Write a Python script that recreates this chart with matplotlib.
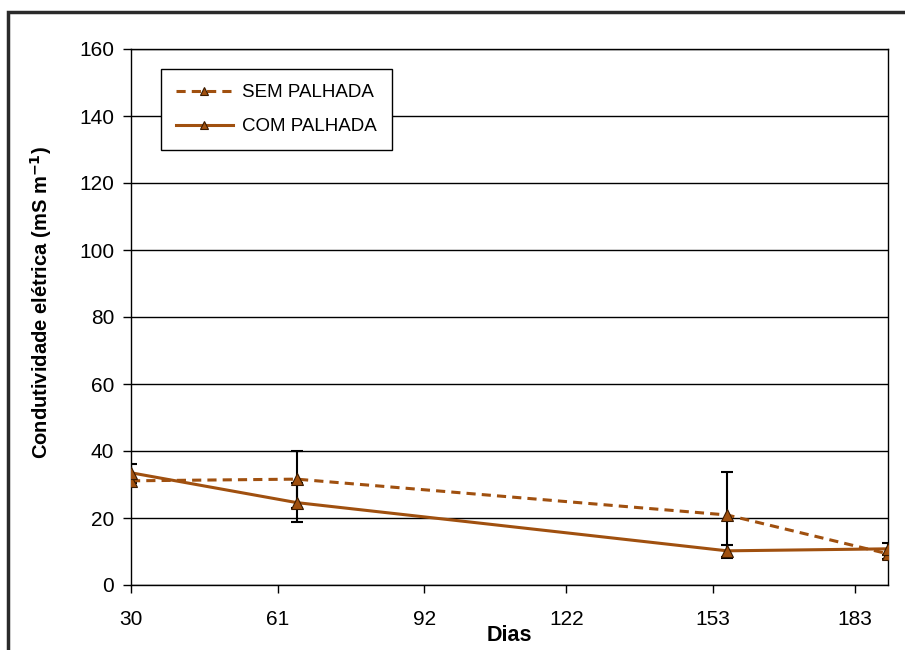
import matplotlib.pyplot as plt
from matplotlib.patches import Rectangle

plt.rcParams['font.family'] = ['Liberation Sans', 'DejaVu Sans']

# dados
dias = [30, 65, 156, 190]
sem_palhada = [31.1, 31.6, 20.9, 9.3]
sem_erro = [0.6, 8.5, 12.8, 1.5]
com_palhada = [33.5, 24.6, 10.2, 10.8]
com_erro = [2.6, 5.7, 1.8, 1.8]

x_ticks = [30, 61, 92, 122, 153, 183]
y_ticks = [0, 20, 40, 60, 80, 100, 120, 140, 160]

cor = '#A0500F'

fig = plt.figure(figsize=(9.05, 6.5), dpi=100)
ax = fig.add_axes([131 / 905, 65 / 650, 757 / 905, 536 / 650])

# moldura externa
fig.patches.append(Rectangle((8 / 905, -0.05), 1.05, 1 - 12 / 650 + 0.05,
                             transform=fig.transFigure, fill=False,
                             edgecolor='#2a2a2a', linewidth=2.5))

ax.errorbar(dias, sem_palhada, yerr=sem_erro, fmt='none', ecolor='black',
            elinewidth=1.5, capsize=4.5, capthick=1.5, zorder=2)
ax.errorbar(dias, com_palhada, yerr=com_erro, fmt='none', ecolor='black',
            elinewidth=1.5, capsize=4.5, capthick=1.5, zorder=2)

ax.plot(dias, sem_palhada, linestyle=(0, (3, 2)), color=cor, linewidth=2.2,
        marker='^', markersize=9, markerfacecolor=cor, markeredgecolor='#3a1a00',
        markeredgewidth=0.8, label='SEM PALHADA', zorder=3)
ax.plot(dias, com_palhada, linestyle='-', color=cor, linewidth=2.2,
        marker='^', markersize=9, markerfacecolor=cor, markeredgecolor='#3a1a00',
        markeredgewidth=0.8, label='COM PALHADA', zorder=3)

ax.set_xlim(30, 190)
ax.set_ylim(0, 160)
ax.set_xticks(x_ticks)
ax.set_yticks(y_ticks)
ax.yaxis.grid(True, color='black', linewidth=1)
ax.set_axisbelow(True)
ax.tick_params(axis='both', direction='out', length=6, width=1,
               labelsize=15, color='black')
ax.tick_params(axis='x', pad=12)
ax.tick_params(axis='y', pad=6)
for s in ax.spines.values():
    s.set_linewidth(1)
    s.set_color('black')

ax.set_xlabel('Dias', fontsize=15.5, fontweight='bold', labelpad=-3)
ax.set_ylabel('Condutividade elétrica (mS m$^{\\mathbf{-1}}$)', fontsize=14.5,
              fontweight='bold')
ax.yaxis.set_label_coords(-0.102, 0.527)

leg = ax.legend(loc='upper left', bbox_to_anchor=(0.04, 0.962), fontsize=13.5,
                frameon=True, fancybox=False, edgecolor='black', framealpha=1,
                handlelength=3, markerscale=0.7, borderpad=0.8,
                labelspacing=0.9, borderaxespad=0, handletextpad=0.5)
leg.get_frame().set_linewidth(1)

fig.savefig('out.png', dpi=100)
